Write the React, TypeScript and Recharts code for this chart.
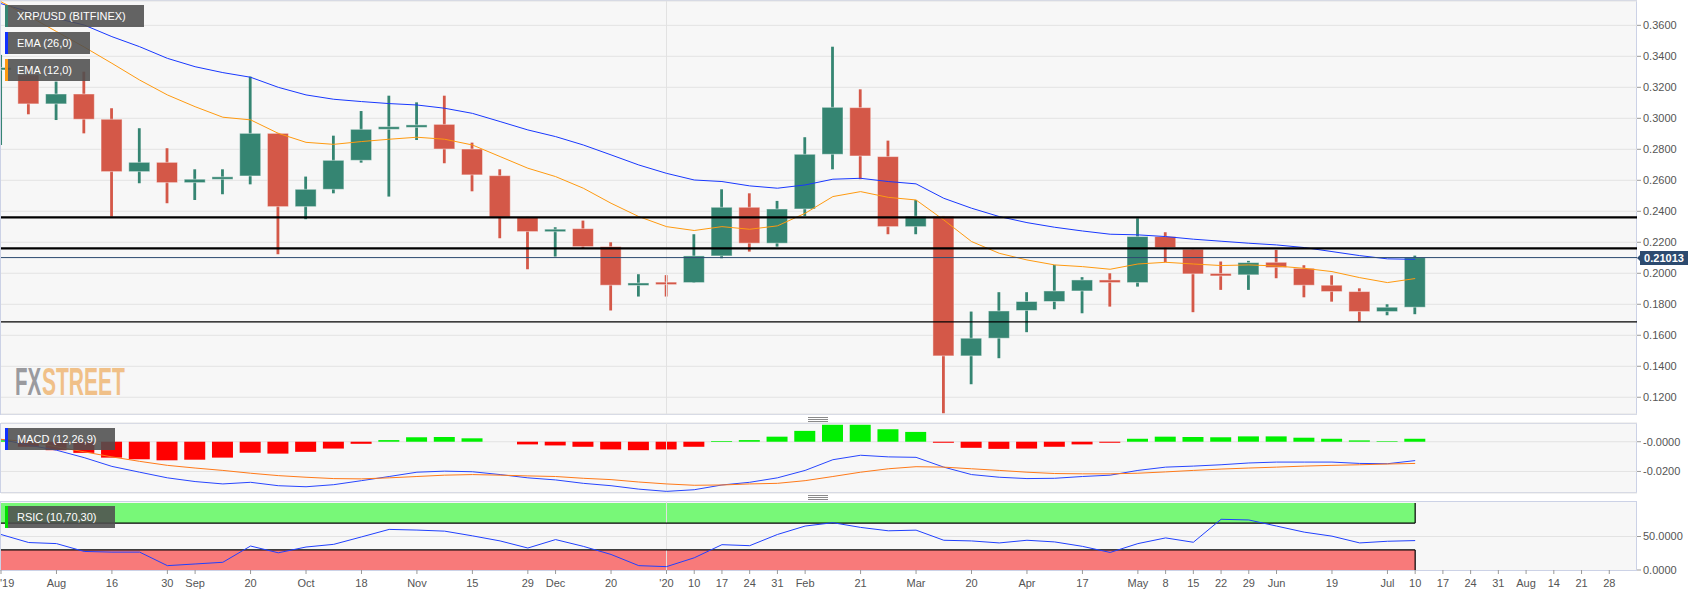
import React from 'react';
import {
  ComposedChart,
  Bar,
  Line,
  XAxis,
  YAxis,
  CartesianGrid,
  ReferenceLine,
  ReferenceArea,
  Cell,
} from 'recharts';

const FONT = '"Liberation Sans", Arial, Helvetica, sans-serif';
const W = 1707;
const H = 596;

// ---- weekly candles (week index 0 = 19 Jul 2019) ----
const opens = [
  0.3315, 0.328, 0.3093, 0.3157, 0.2994, 0.2656, 0.2716, 0.2585, 0.2607, 0.2628,
  0.2903, 0.243, 0.2542, 0.2729, 0.2929, 0.2946, 0.2961, 0.2802, 0.263, 0.2362,
  0.2269, 0.2288, 0.2172, 0.1923, 0.1938, 0.194, 0.2112, 0.2426, 0.2194, 0.2415,
  0.2768, 0.3069, 0.2753, 0.2301, 0.2368, 0.1467, 0.1581, 0.176, 0.1818, 0.1886,
  0.1957, 0.194, 0.2237, 0.2155, 0.1996, 0.199, 0.2071, 0.2032, 0.1923, 0.1882,
  0.1753, 0.1781,
];
const highs = [
  0.3409, 0.3344, 0.3237, 0.3301, 0.3065, 0.2936, 0.2807, 0.2671, 0.2671, 0.3269,
  0.2906, 0.2624, 0.2888, 0.3047, 0.3146, 0.3103, 0.3146, 0.2843, 0.2671, 0.2364,
  0.2297, 0.234, 0.22, 0.1994, 0.1988, 0.2252, 0.2542, 0.2516, 0.2467, 0.2878,
  0.3462, 0.3187, 0.2856, 0.2473, 0.237, 0.1753, 0.1878, 0.1878, 0.2054, 0.1975,
  0.2, 0.2355, 0.2265, 0.2157, 0.2076, 0.208, 0.2151, 0.2052, 0.1987, 0.1903,
  0.18, 0.2114,
];
const lows = [
  0.2828, 0.3026, 0.2989, 0.2903, 0.2366, 0.2581, 0.2452, 0.2473, 0.251, 0.2574,
  0.2123, 0.2349, 0.2516, 0.2714, 0.2495, 0.286, 0.271, 0.2529, 0.2226, 0.2026,
  0.2108, 0.2162, 0.176, 0.185, 0.185, 0.1938, 0.2097, 0.214, 0.2172, 0.237,
  0.2671, 0.2607, 0.2252, 0.2252, 0.1097, 0.1284, 0.1452, 0.162, 0.1768, 0.1742,
  0.1785, 0.1914, 0.2071, 0.1749, 0.1893, 0.1893, 0.1968, 0.1845, 0.1817, 0.1688,
  0.1729, 0.1736,
];
const closes = [
  0.3325, 0.3093, 0.3157, 0.2994, 0.2656, 0.2716, 0.2585, 0.2607, 0.2622, 0.2903,
  0.243, 0.2542, 0.2729, 0.2929, 0.2946, 0.2953, 0.2802, 0.2635, 0.2362, 0.2269,
  0.2284, 0.2172, 0.1923, 0.1936, 0.1932, 0.2112, 0.2426, 0.2194, 0.2415, 0.2768,
  0.3071, 0.2757, 0.2301, 0.2368, 0.1467, 0.1581, 0.1757, 0.1818, 0.1886, 0.1957,
  0.194, 0.2237, 0.2166, 0.1996, 0.1986, 0.2069, 0.2037, 0.1923, 0.1882, 0.1753,
  0.1781, 0.21013,
];
const ema26 = [
  0.374, 0.3688, 0.3645, 0.3602, 0.3527, 0.3462, 0.3387, 0.3333, 0.3295, 0.3265,
  0.32, 0.3151, 0.3123, 0.3108, 0.3095, 0.3086, 0.3065, 0.3032, 0.2979, 0.2925,
  0.2882, 0.2828, 0.2764, 0.2699, 0.2645, 0.2602, 0.2592, 0.2564, 0.2549, 0.257,
  0.2607, 0.2613, 0.2592, 0.2577, 0.2484, 0.242, 0.2366, 0.2327, 0.2297, 0.2273,
  0.2252, 0.2248, 0.2237, 0.222, 0.2207, 0.2194, 0.2183, 0.2166, 0.214, 0.2114,
  0.2093, 0.209,
];
const ema12 = [
  0.3752, 0.366, 0.356, 0.346, 0.3355, 0.3247, 0.3151, 0.3075, 0.3007, 0.299,
  0.2903, 0.2845, 0.2832, 0.285, 0.2865, 0.2878, 0.2865, 0.2828, 0.2753, 0.2678,
  0.2624, 0.2549, 0.2452, 0.2366, 0.2301, 0.2276, 0.2301, 0.2284, 0.2306, 0.2387,
  0.2495, 0.2527, 0.249, 0.2473, 0.2344, 0.2205, 0.2129, 0.2086, 0.2054, 0.2043,
  0.2026, 0.206, 0.2071, 0.206, 0.205, 0.2054, 0.2047, 0.2032, 0.2011, 0.1972,
  0.194, 0.1966,
];

// ---- MACD (12,26,9) ----
const macdHist = [
  0.001, -0.0034, -0.0057, -0.0075, -0.0107, -0.0118, -0.0125, -0.0121, -0.0107, -0.0075,
  -0.008, -0.0068, -0.0046, -0.0014, 0.0011, 0.003, 0.0032, 0.0023, 0.0, -0.0018,
  -0.0025, -0.0034, -0.0052, -0.0057, -0.0052, -0.0034, 0.0005, 0.0011, 0.0034, 0.0073,
  0.0114, 0.0114, 0.0084, 0.0066, -0.0007, -0.0041, -0.0048, -0.0046, -0.0034, -0.0018,
  -0.0007, 0.002, 0.0034, 0.0032, 0.003, 0.0036, 0.0036, 0.0027, 0.002, 0.0009,
  0.0004, 0.002,
];
const macdLine = [
  0.0016, -0.0023, -0.0057, -0.0107, -0.0166, -0.0205, -0.0243, -0.0268, -0.0284, -0.0273,
  -0.0296, -0.0303, -0.0289, -0.0262, -0.0234, -0.0205, -0.0198, -0.0202, -0.0221, -0.0243,
  -0.0257, -0.028, -0.0296, -0.0319, -0.0334, -0.0323, -0.0291, -0.0273, -0.0243, -0.0193,
  -0.0121, -0.0091, -0.0102, -0.0105, -0.0171, -0.0221, -0.0239, -0.0248, -0.0246, -0.0234,
  -0.0225, -0.0193, -0.0171, -0.0164, -0.0155, -0.0143, -0.0137, -0.0137, -0.0137, -0.0146,
  -0.0148, -0.0127,
];
const signalLine = [
  0.0016, 0.0, -0.0034, -0.0068, -0.0102, -0.0132, -0.0159, -0.0177, -0.0193, -0.0212,
  -0.0228, -0.0239, -0.0248, -0.025, -0.0243, -0.0234, -0.0225, -0.0221, -0.0225, -0.023,
  -0.0234, -0.0246, -0.0255, -0.0271, -0.0284, -0.0293, -0.0291, -0.0284, -0.028, -0.0262,
  -0.0234, -0.0205, -0.0182, -0.0168, -0.0171, -0.0182, -0.0193, -0.0205, -0.0214, -0.0216,
  -0.0216, -0.0212, -0.0203, -0.0193, -0.0184, -0.0177, -0.0171, -0.0164, -0.0159, -0.0155,
  -0.015, -0.0146,
];

// ---- RSI ----
const rsiValues = [
  53, 41, 39.4, 27.7, 26.7, 26.7, 6.5, 9, 11.5, 35.8,
  25.7, 34.3, 38.3, 49.4, 60.6, 59.6, 58, 51, 43.4, 32.8,
  45.4, 35.3, 23.2, 6.5, 5, 18.2, 37.8, 36.3, 53, 65.6,
  70.6, 63.6, 58.5, 59.5, 44.4, 43.4, 40.4, 44.4, 41.9, 35.3,
  26.2, 39.4, 47.9, 41.4, 75.7, 74.7, 65.6, 56.5, 50.5, 40.4,
  42.9, 43.9,
];

// ---- axes ----
const priceTicks = [0.12, 0.14, 0.16, 0.18, 0.2, 0.22, 0.24, 0.26, 0.28, 0.3, 0.32, 0.34, 0.36];
const macdTicks = [0, -0.02];
const macdTickLabels = ['-0.0000', '-0.0200'];
const rsiTicks = [0, 50];
const rsiTickLabels = ['0.0000', '50.0000'];
const xTickWeeks = [
  0, 2, 4, 6, 7, 9, 11, 13, 15, 17, 19, 20, 22, 24, 25, 26, 27, 28, 29, 31, 33, 35, 37, 39,
  41, 42, 43, 44, 45, 46, 48, 50, 51, 52, 53, 54, 55, 56, 57, 58,
];
const xTickLabels = [
  "'19", 'Aug', '16', '30', 'Sep', '20', 'Oct', '18', 'Nov', '15', '29', 'Dec', '20', "'20",
  '10', '17', '24', '31', 'Feb', '21', 'Mar', '20', 'Apr', '17', 'May', '8', '15', '22', '29',
  'Jun', '19', 'Jul', '10', '17', '24', '31', 'Aug', '14', '21', '28',
];
const levels = [0.2361, 0.2161, 0.1686];
const lastPrice = 0.21013;
const yearWeek = 24;

const GREEN = '#358572';
const RED = '#d45848';

const priceData = opens.map((o, i) => ({
  i,
  open: o,
  high: highs[i],
  low: lows[i],
  close: closes[i],
  ema26: ema26[i],
  ema12: ema12[i],
}));
const macdData = macdHist.map((h, i) => ({ i, hist: h, macd: macdLine[i], signal: signalLine[i] }));
const rsiData = rsiValues.map((r, i) => ({ i, rsi: r }));

const Candle = (props: any) => {
  const { x, y, width, height, payload } = props;
  if (!payload || x == null) return null;
  const { open, close, high, low } = payload;
  const top = Math.min(y, y + height);
  const h = Math.abs(height);
  const up = close >= open;
  const color = up ? GREEN : RED;
  const ratio = h / (high - low || 1);
  const yOf = (v: number) => top + (high - v) * ratio;
  let bTop = yOf(Math.max(open, close));
  let bH = Math.abs(yOf(open) - yOf(close));
  if (bH < 2.5) {
    bTop -= (2.5 - bH) / 2;
    bH = 2.5;
  }
  const cx = x + width / 2;
  return (
    <g>
      <rect x={cx - 1.4} y={top} width={2.8} height={h} fill={color} />
      <rect
        x={x}
        y={bTop}
        width={width}
        height={bH}
        fill={color}
        stroke="rgba(255,255,255,0.45)"
        strokeWidth={1}
      />
    </g>
  );
};

const XTick = (props: any) => {
  const { x, y, payload } = props;
  const idx = xTickWeeks.indexOf(payload.value);
  const label = idx >= 0 ? xTickLabels[idx] : '';
  const first = payload.value === 0;
  return (
    <text
      x={first ? 0 : x}
      y={y + 11}
      textAnchor={first ? 'start' : 'middle'}
      fill="#555"
      fontSize={11}
      fontFamily={FONT}
    >
      {label}
    </text>
  );
};

const yTickStyle = { fill: '#555', fontSize: 11, fontFamily: FONT };

const panelStyle = (top: number, height: number): React.CSSProperties => ({
  position: 'absolute',
  left: 0,
  top,
  width: 1637,
  height,
  boxSizing: 'border-box',
  border: '1px solid #ccd2e6',
  background: '#f7f7f7',
});

const legendBox = (
  top: number,
  width: number,
  barColor: string,
  text: string
): React.ReactElement => (
  <div
    key={text}
    style={{
      position: 'absolute',
      left: 5,
      top,
      width,
      height: 22,
      background: 'rgba(78,78,78,0.88)',
      color: '#fff',
      fontFamily: FONT,
      fontSize: 11,
      lineHeight: '22px',
      boxSizing: 'border-box',
      paddingLeft: 12,
    }}
  >
    <div style={{ position: 'absolute', left: 0, top: 0, width: 2.5, height: 22, background: barColor }} />
    {text}
  </div>
);

const Handle = ({ top }: { top: number }) => (
  <div style={{ position: 'absolute', left: 808, top, width: 20, height: 5 }}>
    {[0, 2, 4].map((o) => (
      <div key={o} style={{ position: 'absolute', left: 0, top: o, width: 20, height: 1, background: '#8a8a8a' }} />
    ))}
  </div>
);

const abs: React.CSSProperties = { position: 'absolute', left: 0, top: 0 };

export default function App() {
  return (
    <div style={{ position: 'absolute', left: 0, top: 0, width: W, height: H, background: '#fff', overflow: 'hidden' }}>
      <div style={panelStyle(0, 415)} />
      <div style={panelStyle(423, 70)} />
      <div style={panelStyle(501, 70)} />

      <svg width={W} height={H} style={abs}>
        <g transform="translate(0,395) scale(1,1.86)">
          <text x={15} y={0} fontSize={20.5} fontWeight="bold" fontFamily={FONT} fill="#9a9a9e">
            FX
          </text>
          <text x={42} y={0} fontSize={21} fontWeight="bold" fontFamily={FONT} fill="#f0c088">
            STREET
          </text>
        </g>
      </svg>

      {/* Price panel */}
      <div style={abs}>
        <ComposedChart width={W} height={H} data={priceData} margin={{ top: 1, right: 0, bottom: 182, left: 1 }}>
          <CartesianGrid vertical={false} stroke="#e3e3e3" />
          <XAxis type="number" dataKey="i" domain={[0, 59]} hide allowDataOverflow />
          <YAxis
            orientation="right"
            width={70}
            domain={[0.1092, 0.3757]}
            allowDataOverflow
            ticks={priceTicks}
            tickFormatter={(v: number) => v.toFixed(4)}
            tick={yTickStyle}
            tickSize={4}
            tickMargin={2}
            axisLine={false}
            tickLine={{ stroke: '#999' }}
          />
          <ReferenceLine x={yearWeek} stroke="#e2e2e2" />
          <Bar
            dataKey={(d: any) => [d.low, d.high]}
            shape={<Candle />}
            barSize={21}
            isAnimationActive={false}
          />
          <Line type="linear" dataKey="ema26" stroke="#1838ff" strokeWidth={1} dot={false} isAnimationActive={false} />
          <Line type="linear" dataKey="ema12" stroke="#ff9a10" strokeWidth={1} dot={false} isAnimationActive={false} />
          <ReferenceLine y={levels[0]} stroke="#000" strokeWidth={2.2} />
          <ReferenceLine y={levels[1]} stroke="#000" strokeWidth={2.2} />
          <ReferenceLine y={levels[2]} stroke="#000" strokeWidth={1.3} />
          <ReferenceLine y={lastPrice} stroke="#2c4a6f" strokeWidth={1} />
        </ComposedChart>
      </div>

      {/* MACD panel */}
      <div style={abs}>
        <ComposedChart width={W} height={H} data={macdData} margin={{ top: 423, right: 0, bottom: 103, left: 1 }}>
          <CartesianGrid vertical={false} stroke="#e3e3e3" />
          <XAxis type="number" dataKey="i" domain={[0, 59]} hide allowDataOverflow />
          <YAxis
            orientation="right"
            width={70}
            domain={[-0.0345, 0.0126]}
            allowDataOverflow
            ticks={macdTicks}
            tickFormatter={(v: number) => macdTickLabels[macdTicks.indexOf(v)] ?? ''}
            tick={yTickStyle}
            tickSize={4}
            tickMargin={2}
            axisLine={false}
            tickLine={{ stroke: '#999' }}
          />
          <ReferenceLine x={yearWeek} stroke="#e2e2e2" />
          <Bar dataKey="hist" barSize={21} isAnimationActive={false}>
            {macdData.map((d) => (
              <Cell key={d.i} fill={d.hist >= 0 ? '#00f000' : '#ff0000'} />
            ))}
          </Bar>
          <Line type="linear" dataKey="macd" stroke="#2846ff" strokeWidth={1} dot={false} isAnimationActive={false} />
          <Line type="linear" dataKey="signal" stroke="#ff7a1a" strokeWidth={1} dot={false} isAnimationActive={false} />
        </ComposedChart>
      </div>

      {/* RSI panel */}
      <div style={abs}>
        <ComposedChart width={W} height={H} data={rsiData} margin={{ top: 501, right: 0, bottom: 0, left: 1 }}>
          <CartesianGrid vertical={false} stroke="#e3e3e3" horizontalValues={[50]} />
          <XAxis
            type="number"
            dataKey="i"
            domain={[0, 59]}
            allowDataOverflow
            ticks={xTickWeeks}
            interval={0}
            height={26}
            tick={<XTick />}
            tickSize={4}
            tickMargin={2}
            axisLine={false}
            tickLine={{ stroke: '#999' }}
          />
          <YAxis
            orientation="right"
            width={70}
            domain={[0, 103]}
            allowDataOverflow
            ticks={rsiTicks}
            tickFormatter={(v: number) => rsiTickLabels[rsiTicks.indexOf(v)] ?? ''}
            tick={yTickStyle}
            tickSize={4}
            tickMargin={2}
            axisLine={false}
            tickLine={{ stroke: '#999' }}
          />
          <ReferenceLine x={yearWeek} stroke="#e2e2e2" />
          <ReferenceArea x1={0} x2={51} y1={70} y2={100} fill="#78f878" fillOpacity={1} stroke="none" />
          <ReferenceArea x1={0} x2={51} y1={0} y2={30} fill="#f87a7a" fillOpacity={1} stroke="none" />
          <ReferenceLine segment={[{ x: 0, y: 70 }, { x: 51, y: 70 }]} stroke="#000" strokeWidth={1.2} />
          <ReferenceLine segment={[{ x: 0, y: 30 }, { x: 51, y: 30 }]} stroke="#000" strokeWidth={1.2} />
          <ReferenceLine segment={[{ x: 51, y: 70 }, { x: 51, y: 100 }]} stroke="#000" strokeWidth={1.2} />
          <ReferenceLine segment={[{ x: 51, y: 0 }, { x: 51, y: 30 }]} stroke="#000" strokeWidth={1.2} />
          <Line type="linear" dataKey="rsi" stroke="#2040ff" strokeWidth={1} dot={false} isAnimationActive={false} />
        </ComposedChart>
      </div>

      {/* legends */}
      {legendBox(5, 139, GREEN, 'XRP/USD (BITFINEX)')}
      {legendBox(32, 85, '#1030ff', 'EMA (26,0)')}
      {legendBox(59, 85, '#ff9a10', 'EMA (12,0)')}
      {legendBox(428, 110, '#1030ff', 'MACD (12,26,9)')}
      {legendBox(506, 110, '#00e000', 'RSIC (10,70,30)')}

      {/* last price tag */}
      <svg width={60} height={20} style={{ position: 'absolute', left: 1636, top: 248 }}>
        <polygon points="1,10 5,6 5,14" fill="#2c4a6f" />
        <rect x={4} y={3} width={48} height={14} fill="#2c4a6f" />
        <text x={28} y={14} textAnchor="middle" fill="#fff" fontSize={11} fontWeight="bold" fontFamily={FONT}>
          {lastPrice.toFixed(5)}
        </text>
      </svg>

      <Handle top={417} />
      <Handle top={495} />
    </div>
  );
}
